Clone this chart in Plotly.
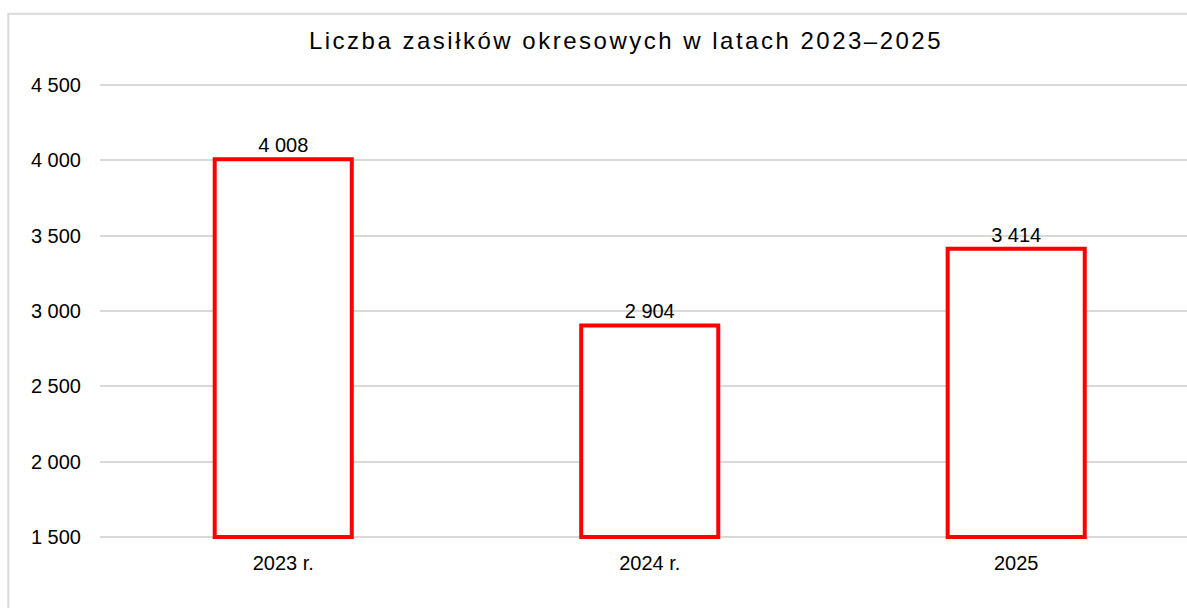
import plotly.graph_objects as go

categories = ["2023 r.", "2024 r.", "2025"]
values = [4008, 2904, 3414]
axis_min = 1500
axis_max = 4500
tick_values = [1500, 2000, 2500, 3000, 3500, 4000, 4500]
tick_labels = ["1 500", "2 000", "2 500", "3 000", "3 500", "4 000", "4 500"]
title_text = "Liczba zasiłków okresowych w latach 2023–2025"

labels = [f"{v:,}".replace(",", " ") for v in values]
lengths = [v - axis_min for v in values]

font_family = "Liberation Sans, Arial, sans-serif"

fig = go.Figure()
fig.add_trace(go.Bar(
    x=categories,
    y=lengths,
    base=[axis_min] * len(values),
    width=0.374,
    marker=dict(color="#FFFFFF", line=dict(color="#FF0000", width=4)),
    text=labels,
    textposition="outside",
    textfont=dict(family=font_family, size=20, color="#000000"),
    cliponaxis=False,
    hoverinfo="skip",
))

# plot area: 4500 at y=85 px, 1500 at y=537 px (padding of 20 units each side)
fig.update_layout(
    width=1187,
    height=608,
    margin=dict(l=100, r=0, t=82, b=68),
    paper_bgcolor="#FFFFFF",
    plot_bgcolor="#FFFFFF",
    showlegend=False,
    font=dict(family=font_family, size=20, color="#000000"),
    title=dict(
        text=title_text,
        x=626 / 1187,
        xref="container",
        xanchor="center",
        y=1 - 41 / 608,
        yref="container",
        yanchor="middle",
        font=dict(family=font_family, size=24, color="#000000"),
    ),
    xaxis=dict(
        range=[-0.5, 2.466],
        showgrid=False,
        showline=False,
        zeroline=False,
        ticks="",
        ticklabelstandoff=9,
        tickfont=dict(size=20),
    ),
    yaxis=dict(
        range=[axis_min - 20, axis_max + 20],
        tickvals=tick_values,
        ticktext=tick_labels,
        showgrid=True,
        gridcolor="#D9D9D9",
        gridwidth=1.5,
        showline=False,
        zeroline=False,
        ticks="",
        ticklabelstandoff=18,
        tickfont=dict(size=20),
    ),
    shapes=[dict(
        type="rect",
        xref="paper", yref="paper",
        x0=(8.3 - 100) / 1087, x1=1.1,
        y0=-0.3, y1=(540 - 13.7) / 458,
        line=dict(color="#D9D9D9", width=2),
        fillcolor="rgba(0,0,0,0)",
        layer="below",
    )],
)

post = """
document.body.style.margin = '0';
document.body.style.overflow = 'hidden';
var g = document.querySelectorAll('.gtitle');
g.forEach(function(e){ e.style.letterSpacing = '2.5px'; });
"""
fig.write_html("out.html", config={"displayModeBar": False}, post_script=post)
